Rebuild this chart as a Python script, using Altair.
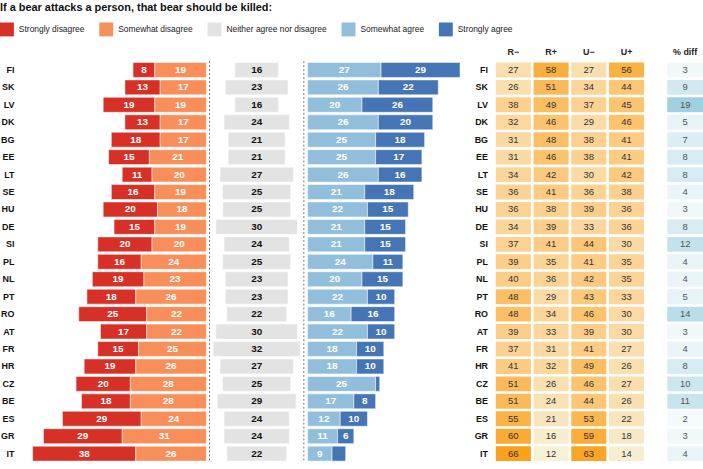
import altair as alt
import pandas as pd

FONT = "Liberation Sans"

countries = ["FI", "SK", "LV", "DK", "BG", "EE", "LT", "SE", "HU", "DE", "SI", "PL",
             "NL", "PT", "RO", "AT", "FR", "HR", "CZ", "BE", "ES", "GR", "IT"]
strongly_disagree = [8, 13, 19, 13, 18, 15, 11, 16, 20, 15, 20, 16, 19, 18, 25, 17, 15, 19, 20, 18, 29, 29, 38]
somewhat_disagree = [19, 17, 19, 17, 17, 21, 20, 19, 18, 19, 20, 24, 23, 26, 22, 22, 25, 26, 28, 28, 24, 31, 26]
neither = [16, 23, 16, 24, 21, 21, 27, 25, 25, 30, 24, 25, 23, 23, 22, 30, 32, 27, 25, 29, 24, 24, 22]
somewhat_agree = [27, 26, 20, 26, 25, 25, 26, 21, 22, 21, 21, 24, 20, 22, 16, 22, 18, 18, 25, 17, 12, 11, 9]
strongly_agree = [29, 22, 26, 20, 18, 17, 16, 18, 15, 15, 15, 11, 15, 10, 16, 10, 10, 10, 1.5, 8, 10, 6, 5]

r_minus = [27, 26, 38, 32, 31, 31, 34, 36, 36, 34, 37, 39, 40, 48, 48, 39, 37, 41, 51, 51, 55, 60, 66]
r_plus = [58, 51, 49, 46, 48, 46, 42, 41, 38, 39, 41, 35, 36, 29, 34, 33, 31, 32, 26, 24, 21, 16, 12]
u_minus = [27, 34, 37, 29, 38, 38, 30, 36, 39, 33, 44, 41, 42, 43, 46, 39, 41, 49, 46, 44, 53, 59, 63]
u_plus = [56, 44, 45, 46, 41, 41, 42, 38, 36, 36, 30, 35, 35, 33, 30, 30, 27, 26, 27, 26, 22, 18, 14]
pct_diff = [3, 9, 19, 5, 7, 8, 8, 4, 3, 8, 12, 4, 4, 5, 14, 3, 4, 8, 10, 11, 2, 3, 4]

categories = ["Strongly disagree", "Somewhat disagree", "Neither agree nor disagree",
              "Somewhat agree", "Strongly agree"]
cat_colors = ["#d73027", "#f88f5a", "#e3e3e3", "#91bfdb", "#4575b4"]
metrics = ["R\u2212", "R+", "U\u2212", "U+"]
diff_label = "% diff"

# ---- long tables built from the arrays ----
series = [strongly_disagree, somewhat_disagree, neither, somewhat_agree, strongly_agree]
sides = ["dis", "dis", "neu", "agr", "agr"]
stack_rank = [2, 1, 1, 1, 2]
rows = []
for cat, vals, side, rank in zip(categories, series, sides, stack_rank):
    for c, v in zip(countries, vals):
        rows.append({"country": c, "category": cat, "value": v, "side": side, "rank": rank})
bars = pd.DataFrame(rows)

hrows = []
for m, vals in zip(metrics, [r_minus, r_plus, u_minus, u_plus]):
    for c, v in zip(countries, vals):
        hrows.append({"country": c, "metric": m, "value": v})
heat = pd.DataFrame(hrows)
diff = pd.DataFrame({"country": countries, "col": [diff_label] * len(countries), "value": pct_diff})

NEU_HALF = 17.35
H = 404
min_label = 6
NO_VIEW = alt.ViewBackground(stroke="transparent", strokeWidth=0)

y_scale = alt.Scale(domain=countries, paddingInner=0.145, paddingOuter=0.0725)
country_axis = alt.Axis(title=None, labelFont=FONT, labelFontSize=9, labelFontWeight="bold",
                        labelColor="#111", labelPadding=6, ticks=False, domain=False, grid=False)
heat_country_axis = alt.Axis(title=None, labelFont=FONT, labelFontSize=9, labelFontWeight="bold",
                             labelColor="#111", labelPadding=7, ticks=False, domain=False,
                             grid=False)
y_none = alt.Y("country:N", sort=countries, scale=y_scale, axis=None)
y_lab = alt.Y("country:N", sort=countries, scale=y_scale, axis=country_axis)

cat_scale = alt.Scale(domain=categories, range=cat_colors)
legend = alt.Legend(title=None, orient="none", legendX=-20, legendY=0, direction="horizontal",
                    columns=5, symbolType="square", symbolSize=196, symbolStrokeWidth=0,
                    symbolOpacity=1, labelFont=FONT, labelFontSize=8.5, labelColor="#222",
                    columnPadding=14, labelOffset=5, padding=0)

bar_style = dict(stroke="white", strokeWidth=1, strokeOpacity=0.5)

# ---- legend row ----
legend_chart = alt.Chart(pd.DataFrame({"category": categories})).mark_square(
    size=0, opacity=0).encode(
    color=alt.Color("category:N", scale=cat_scale, legend=legend)).properties(
    width=1, height=1, view=NO_VIEW)

# ---- disagree panel ----
dis_x = alt.Scale(domain=[-0.8, 68.7], reverse=True, nice=False, zero=False)
dis_base = (alt.Chart(bars)
            .transform_filter(alt.datum.side == "dis")
            .transform_stack(stack="value", groupby=["country"],
                             sort=[alt.SortField("rank", order="ascending")], as_=["v0", "v1"])
            .transform_calculate(mid="(datum.v0 + datum.v1) / 2"))
dis_bars = dis_base.mark_bar(**bar_style).encode(
    x=alt.X("v0:Q", scale=dis_x, axis=None), x2="v1:Q", y=y_lab,
    color=alt.Color("category:N", scale=cat_scale, legend=None))
dis_text = dis_base.transform_filter(alt.datum.value >= min_label).mark_text(
    font=FONT, fontSize=10, fontWeight="bold", color="white").encode(
    x=alt.X("mid:Q", scale=dis_x, axis=None), y=y_lab,
    text=alt.Text("value:Q", format=".0f"))
dis = alt.layer(dis_bars, dis_text).properties(width=190, height=H, view=NO_VIEW)

# ---- neutral panel ----
neu_x = alt.Scale(domain=[-NEU_HALF, NEU_HALF], nice=False, zero=False)
neu_base = (alt.Chart(bars)
            .transform_filter(alt.datum.side == "neu")
            .transform_calculate(n0="-datum.value / 2", n1="datum.value / 2",
                                 mid="(datum.n0 + datum.n1) / 2"))
neu_bars = neu_base.mark_bar(**bar_style).encode(
    x=alt.X("n0:Q", scale=neu_x, axis=None), x2="n1:Q", y=y_none,
    color=alt.Color("category:N", scale=cat_scale, legend=None))
neu_text = neu_base.mark_text(font=FONT, fontSize=10, fontWeight="bold", color="#111").encode(
    x=alt.X("mid:Q", scale=neu_x, axis=None), y=y_none,
    text=alt.Text("value:Q", format=".0f"))
edges = pd.DataFrame({"edge": [-NEU_HALF, NEU_HALF]})
neu_rules = alt.Chart(edges).mark_rule(strokeDash=[2, 2], color="#777", strokeWidth=1).encode(
    x=alt.X("edge:Q", scale=neu_x, axis=None))
neu = alt.layer(neu_bars, neu_text, neu_rules).properties(width=95, height=H, view=NO_VIEW)

# ---- agree panel ----
agr_x = alt.Scale(domain=[-1, 61], nice=False, zero=False)
agr_base = (alt.Chart(bars)
            .transform_filter(alt.datum.side == "agr")
            .transform_stack(stack="value", groupby=["country"],
                             sort=[alt.SortField("rank", order="ascending")], as_=["v0", "v1"])
            .transform_calculate(mid="(datum.v0 + datum.v1) / 2"))
agr_bars = agr_base.mark_bar(**bar_style).encode(
    x=alt.X("v0:Q", scale=agr_x, axis=None), x2="v1:Q", y=y_none,
    color=alt.Color("category:N", scale=cat_scale, legend=None))
agr_text = agr_base.transform_filter(alt.datum.value >= min_label).mark_text(
    font=FONT, fontSize=10, fontWeight="bold", color="white").encode(
    x=alt.X("mid:Q", scale=agr_x, axis=None), y=y_none,
    text=alt.Text("value:Q", format=".0f"))
agr = alt.layer(agr_bars, agr_text).properties(width=170, height=H, view=NO_VIEW)

# ---- heatmap ----
head_axis = alt.Axis(orient="top", title=None, labelFont=FONT, labelFontSize=9,
                     labelFontWeight="bold", labelColor="#222", labelPadding=5,
                     ticks=False, domain=False, grid=False, labelAngle=0)
heat_x = alt.X("metric:N", sort=metrics,
               scale=alt.Scale(domain=metrics, paddingInner=0.07, paddingOuter=0.035),
               axis=head_axis)
heat_y = alt.Y("country:N", sort=countries, scale=y_scale, axis=heat_country_axis)
heat_base = alt.Chart(heat).encode(x=heat_x, y=heat_y)
heat_rect = heat_base.mark_rect().encode(
    color=alt.Color("value:Q", legend=None,
                    scale=alt.Scale(domain=[10, 38, 66], interpolate="rgb",
                                    range=["#f6f3dc", "#fdd08e", "#f9a11b"])))
heat_text = heat_base.mark_text(font=FONT, fontSize=9.5, color="#333").encode(text="value:Q")
heat_chart = alt.layer(heat_rect, heat_text).properties(width=152, height=H, view=NO_VIEW)

diff_x = alt.X("col:N", scale=alt.Scale(domain=[diff_label], paddingInner=0, paddingOuter=0),
               axis=head_axis)
diff_base = alt.Chart(diff).encode(x=diff_x, y=y_none)
diff_rect = diff_base.mark_rect().encode(
    color=alt.Color("value:Q", legend=None,
                    scale=alt.Scale(domain=[0, 20], interpolate="rgb",
                                    range=["#ffffff", "#9bcfdf"])))
diff_text = diff_base.mark_text(font=FONT, fontSize=9.5, color="#555").encode(text="value:Q")
diff_chart = alt.layer(diff_rect, diff_text).properties(width=36, height=H, view=NO_VIEW)

right = alt.hconcat(heat_chart, diff_chart, spacing=22).resolve_scale(
    color="independent", x="independent", y="independent")

body = (alt.hconcat(dis, neu, agr, right, spacing=0)
        .resolve_scale(color="independent", x="independent", y="independent"))

chart = (alt.vconcat(legend_chart, body, spacing=11)
         .resolve_scale(color="independent", x="independent", y="independent")
         .resolve_legend(color="independent")
         .properties(
             title=alt.Title("If a bear attacks a person, that bear should be killed:",
                             anchor="start", font=FONT, fontSize=11, fontWeight="bold",
                             color="#111", offset=10),
             padding={"left": 0, "top": 0, "right": 0, "bottom": 0})
         .configure_view(stroke="transparent", strokeWidth=0)
         .configure_axis(grid=False, domain=False, ticks=False)
         .configure(font=FONT))

chart.save("out.html", embed_options={"renderer": "svg", "actions": False})
